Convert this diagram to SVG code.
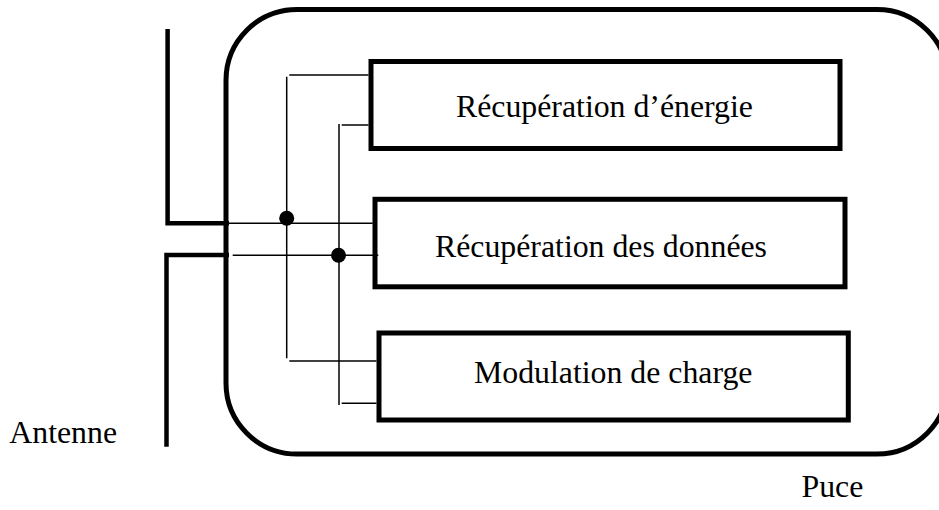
<svg xmlns="http://www.w3.org/2000/svg" width="939" height="510" viewBox="0 0 939 510">
<style>
.thick{fill:none;stroke:#000;stroke-width:5}
.ant{fill:none;stroke:#000;stroke-width:4.5}
.wire{fill:none;stroke:#000;stroke-width:1.5}
.dot{fill:#000}
text{font-family:"Liberation Serif","Times New Roman",serif;font-size:31.8px;fill:#000}
</style>
<rect width="939" height="510" fill="#fff"/>
<g id="puce">
<rect class="thick" x="226" y="9.5" width="722" height="444.5" rx="71" ry="71"/>
<text x="801.5" y="496.5">Puce</text>
</g>
<g id="antenne">
<path class="ant" d="M167.6,29 V223.3 H229"/>
<path class="ant" d="M229,255 H166.5 V446.7"/>
<text x="9.3" y="442.7">Antenne</text>
</g>
<g id="energie">
<rect class="thick" x="371" y="61.5" width="469" height="87"/>
<text x="456" y="117.3">Récupération d’énergie</text>
</g>
<g id="donnees">
<rect class="thick" x="375" y="199.3" width="470" height="87.5"/>
<text x="435" y="256.7">Récupération des données</text>
</g>
<g id="modulation">
<rect class="thick" x="379" y="333" width="469.3" height="87"/>
<text x="474" y="383.3">Modulation de charge</text>
</g>
<g id="connectors">
<path class="wire" d="M229,223.3 H372.7"/>
<path class="wire" d="M232.7,255.3 H378.3"/>
<path class="wire" d="M286.7,76.7 V358.3"/>
<path class="wire" d="M289.3,75 H368.5"/>
<path class="wire" d="M289.3,361 H376.5"/>
<path class="wire" d="M339,124 V405"/>
<path class="wire" d="M341.7,125 H368.5"/>
<path class="wire" d="M341.7,403.3 H376.5"/>
<circle class="dot" cx="286.7" cy="218.2" r="7.5"/>
<circle class="dot" cx="338.5" cy="255.2" r="7.5"/>
</g>
</svg>
